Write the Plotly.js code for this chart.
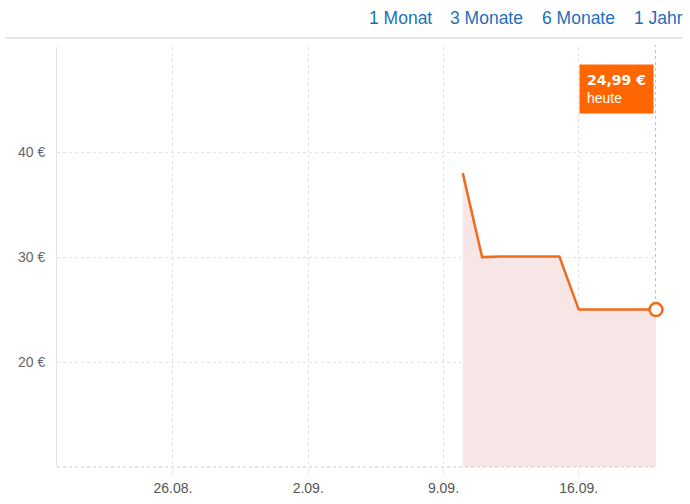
<!DOCTYPE html>
<html><head><meta charset="utf-8">
<script src="https://cdn.plot.ly/plotly-3.0.1.min.js"></script>
<style>html,body{margin:0;padding:0;background:#fff}#c{width:690px;height:504px}</style>
</head><body><div id="c"></div>
<script>
const dates = ['2018-09-10','2018-09-11','2018-09-12','2018-09-13','2018-09-14','2018-09-15','2018-09-16','2018-09-17','2018-09-18','2018-09-19','2018-09-20'];
const prices = [37.99, 29.99, 30.05, 30.05, 30.05, 30.05, 24.99, 24.99, 24.99, 24.99, 24.99];
const xTickVals = ['2018-08-26','2018-09-02','2018-09-09','2018-09-16'];
const xTickText = ['26.08.','2.09.','9.09.','16.09.'];
const yTickVals = [20, 30, 40, 50];
const yTickText = ['20 €','30 €','40 €',''];
const buttons = ['1 Monat','3 Monate','6 Monate','1 Jahr'];
const todayLabel = 'heute';

const last = dates.length - 1;
const priceStr = prices[last].toFixed(2).replace('.', ',') + ' €';

const traces = [
  {x: dates, y: prices, type: 'scatter', mode: 'lines', fill: 'tozeroy', fillcolor: '#f8e5e5',
   line: {color: '#f26a1b', width: 2.5}, hoverinfo: 'skip'},
  {x: [dates[last]], y: [prices[last]], type: 'scatter', mode: 'markers', cliponaxis: false,
   marker: {size: 13, color: '#ffffff', line: {color: '#f26a1b', width: 2.5}}, hoverinfo: 'skip'}
];

const btnX = [400, 486, 578, 658];
const annotations = buttons.map((b, i) => ({
  text: b, xref: 'paper', yref: 'paper', x: (btnX[i] - 57) / 599, y: (467 - 18) / 420,
  xanchor: 'center', yanchor: 'middle', showarrow: false,
  font: {family: 'Arial, Liberation Sans', size: 17.5, color: '#1f6fb8'}
}));
annotations.push({
  text: '<b>' + priceStr + '</b><br><span style="font-size:14px;font-family:Arial">' + todayLabel + '</span>',
  xref: 'paper', yref: 'paper', x: (654 - 57) / 599, y: (467 - 64) / 420,
  xanchor: 'right', yanchor: 'top', showarrow: false, align: 'left',
  bgcolor: '#ff6600', borderpad: 7,
  font: {family: 'DejaVu Sans, Verdana', size: 14, color: '#ffffff'}
});

const layout = {
  width: 690, height: 504,
  margin: {l: 57, r: 34, t: 47, b: 37},
  paper_bgcolor: '#ffffff', plot_bgcolor: '#ffffff',
  showlegend: false,
  xaxis: {type: 'date', range: ['2018-08-20', '2018-09-20'],
    tickvals: xTickVals, ticktext: xTickText, showgrid: true, gridcolor: '#e2e2e2', griddash: 'dot',
    ticks: 'outside', ticklen: 8, tickcolor: '#ececec', zeroline: false, showline: false,
    tickfont: {family: 'Arial, Liberation Sans', size: 14, color: '#555555'}, fixedrange: true},
  yaxis: {range: [10, 50], tickvals: yTickVals, ticktext: yTickText, showgrid: true,
    gridcolor: '#e2e2e2', griddash: 'dot', zeroline: false, showline: true, linecolor: '#e3e3e3', linewidth: 1,
    ticks: '', ticklen: 0, ticklabelstandoff: 8,
    tickfont: {family: 'Arial, Liberation Sans', size: 14, color: '#666666'}, fixedrange: true},
  shapes: [
    {type: 'line', xref: 'paper', yref: 'paper', x0: 0, x1: 1.0, y0: 0, y1: 0,
     line: {color: '#cccccc', width: 1, dash: 'dot'}},
    {type: 'line', xref: 'x', yref: 'paper', x0: dates[last], x1: dates[last], y0: 0, y1: 1.005,
     line: {color: '#999999', width: 1.2, dash: 'dot'}, layer: 'below'},
    {type: 'line', xref: 'paper', yref: 'paper', x0: (5 - 57) / 599, x1: (682 - 57) / 599,
     y0: (467 - 38) / 420, y1: (467 - 38) / 420, line: {color: '#cfcfcf', width: 1}}
  ],
  annotations: annotations
};

Plotly.newPlot('c', traces, layout, {displayModeBar: false, staticPlot: true});
</script></body></html>
